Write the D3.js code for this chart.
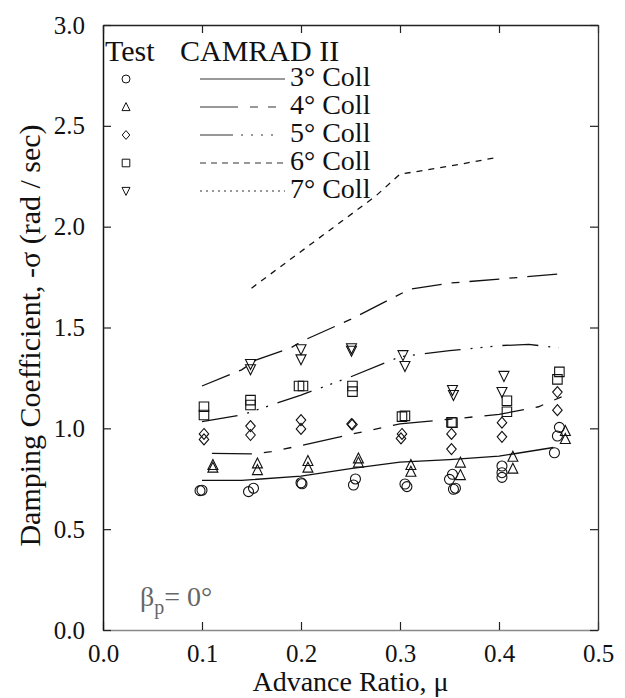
<!DOCTYPE html>
<html>
<head>
<meta charset="utf-8">
<script src="https://cdn.jsdelivr.net/npm/d3@7"></script>
</head>
<body style="margin:0">
<div class="canvas"></div>
<script>
// axis ticks
const xTicks = [0, 0.1, 0.2, 0.3, 0.4, 0.5];
const yTicks = [0, 0.5, 1.0, 1.5, 2.0, 2.5, 3.0];

// legend
const legendLabels = ['3° Coll', '4° Coll', '5° Coll', '6° Coll', '7° Coll'];

// CAMRAD II predictions
const camrad3Mu = [0.10, 0.14, 0.20, 0.25, 0.30, 0.35, 0.40, 0.455];
const camrad3Sigma = [0.742, 0.742, 0.763, 0.80, 0.832, 0.845, 0.862, 0.905];
const camrad4Mu = [0.11, 0.15, 0.17, 0.20, 0.25, 0.30, 0.35, 0.40, 0.44, 0.465];
const camrad4Sigma = [0.876, 0.873, 0.884, 0.915, 0.97, 1.022, 1.045, 1.069, 1.107, 1.16];
const camrad5Mu = [0.10, 0.14, 0.16, 0.20, 0.25, 0.30, 0.35, 0.40, 0.43, 0.46];
const camrad5Sigma = [1.033, 1.066, 1.099, 1.165, 1.255, 1.355, 1.385, 1.41, 1.416, 1.40];
const camrad6Mu = [0.10, 0.14, 0.155, 0.19, 0.20, 0.25, 0.27, 0.31, 0.35, 0.40, 0.46];
const camrad6Sigma = [1.21, 1.29, 1.34, 1.40, 1.43, 1.54, 1.59, 1.69, 1.72, 1.74, 1.765];
const camrad7Mu = [0.15, 0.275, 0.30, 0.35, 0.40];
const camrad7Sigma = [1.695, 2.15, 2.26, 2.30, 2.345];

// test data
const test3Mu = [0.098, 0.10, 0.147, 0.152, 0.20, 0.201, 0.255, 0.253, 0.305, 0.307, 0.353, 0.35, 0.356, 0.354, 0.403, 0.403, 0.403, 0.461, 0.459, 0.456];
const test3Sigma = [0.691, 0.693, 0.686, 0.703, 0.73, 0.725, 0.749, 0.719, 0.724, 0.711, 0.772, 0.747, 0.703, 0.698, 0.813, 0.78, 0.757, 1.005, 0.962, 0.879];
const test4Mu = [0.111, 0.111, 0.156, 0.156, 0.207, 0.207, 0.258, 0.258, 0.311, 0.311, 0.361, 0.361, 0.414, 0.414, 0.467, 0.467];
const test4Sigma = [0.818, 0.805, 0.826, 0.793, 0.838, 0.805, 0.851, 0.83, 0.818, 0.785, 0.83, 0.768, 0.859, 0.80, 0.987, 0.947];
const test5Mu = [0.102, 0.102, 0.149, 0.149, 0.20, 0.20, 0.251, 0.252, 0.302, 0.301, 0.352, 0.352, 0.403, 0.403, 0.459, 0.459];
const test5Sigma = [0.972, 0.945, 1.011, 0.967, 1.041, 0.997, 1.021, 1.019, 0.972, 0.95, 0.972, 0.897, 1.028, 0.958, 1.18, 1.09];
const test6Mu = [0.102, 0.102, 0.149, 0.149, 0.198, 0.202, 0.252, 0.252, 0.302, 0.305, 0.352, 0.353, 0.408, 0.408, 0.461, 0.459];
const test6Sigma = [1.107, 1.066, 1.14, 1.116, 1.21, 1.21, 1.21, 1.182, 1.058, 1.062, 1.03, 1.028, 1.137, 1.082, 1.28, 1.243];
const test7Mu = [0.149, 0.149, 0.20, 0.20, 0.251, 0.251, 0.303, 0.305, 0.353, 0.354, 0.405, 0.403];
const test7Sigma = [1.319, 1.293, 1.392, 1.342, 1.397, 1.385, 1.363, 1.309, 1.19, 1.165, 1.26, 1.18];

const width = 625, height = 698;
const margin = {top:25, right:27, bottom:68, left:103};
const graphWidth = width - margin.left - margin.right;
const graphHeight = height - margin.top - margin.bottom;
const serif = '"Liberation Serif"';

const svg = d3.select('.canvas')
  .append('svg')
    .attr('width', width)
    .attr('height', height);

const graph = svg.append('g')
  .attr('transform', `translate(${margin.left},${margin.top})`);

//scales
const x = d3.scaleLinear().domain([0, 0.5]).range([0, graphWidth]);
const y = d3.scaleLinear().domain([0, 3]).range([graphHeight, 0]);

//axes, ticks pointing inward
const xAxis = d3.axisBottom(x).tickValues(xTicks).tickFormat(d3.format('.1f'))
  .tickSizeInner(-8).tickSizeOuter(0).tickPadding(14);
const yAxis = d3.axisLeft(y).tickValues(yTicks).tickFormat(d3.format('.1f'))
  .tickSizeInner(-8).tickSizeOuter(0).tickPadding(18);
const xTop = d3.axisTop(x).tickValues(xTicks).tickFormat('').tickSizeInner(-8).tickSizeOuter(0);
const yRight = d3.axisRight(y).tickValues(yTicks).tickFormat('').tickSizeInner(-8).tickSizeOuter(0);

const xAxisGroup = graph.append('g').attr('transform', `translate(0,${graphHeight})`).call(xAxis);
const yAxisGroup = graph.append('g').call(yAxis);
const topGroup = graph.append('g').call(xTop);
const rightGroup = graph.append('g').attr('transform', `translate(${graphWidth},0)`).call(yRight);

// d3 puts font attributes on the axis groups, drop them
graph.selectAll('g').attr('font-family', null).attr('font-size', null);
xAxisGroup.select('.domain').attr('stroke', '#888').attr('stroke-width', 1.5);
yAxisGroup.select('.domain').attr('stroke', '#111').attr('stroke-width', 1.5);
topGroup.select('.domain').attr('stroke', '#222').attr('stroke-width', 1.3);
rightGroup.select('.domain').attr('stroke', '#333').attr('stroke-width', 1.3);
graph.selectAll('.tick line').attr('stroke', '#222').attr('stroke-width', 1.2);
graph.selectAll('.tick text')
  .style('font-family', serif)
  .attr('font-size', 25)
  .attr('fill', '#111');

//axis titles
svg.append('text')
  .attr('x', margin.left + graphWidth / 2)
  .attr('y', 691)
  .attr('text-anchor', 'middle')
  .style('font-family', serif)
  .attr('font-size', 28)
  .attr('fill', '#111')
  .text('Advance Ratio, μ');

svg.append('text')
  .attr('transform', `translate(40,${margin.top + graphHeight / 2 + 8}) rotate(-90)`)
  .attr('text-anchor', 'middle')
  .style('font-family', serif)
  .attr('font-size', 30)
  .attr('fill', '#111')
  .text('Damping Coefficient, -σ (rad / sec)');

//beta label
const beta = svg.append('text')
  .attr('x', 140)
  .attr('y', 606)
  .style('font-family', serif)
  .attr('font-size', 28)
  .attr('fill', '#666');
beta.append('tspan').text('β');
beta.append('tspan').attr('font-size', 20).attr('dy', 8).text('p');
beta.append('tspan').attr('dy', -8).text('= 0°');

//marker shapes
const markerPath = (type, r) => {
  if (type === 'circle') return `M${r},0A${r},${r},0,1,1,${-r},0A${r},${r},0,1,1,${r},0Z`;
  if (type === 'triangle') return `M0,${-r*1.1}L${r},${r*0.9}L${-r},${r*0.9}Z`;
  if (type === 'invtriangle') return `M0,${r*1.1}L${r},${-r*0.9}L${-r},${-r*0.9}Z`;
  if (type === 'diamond') return `M0,${-r*1.1}L${r*0.95},0L0,${r*1.1}L${-r*0.95},0Z`;
  return `M${-r*0.95},${-r*0.95}h${r*1.9}v${r*1.9}h${-r*1.9}Z`;
};

const types = ['circle', 'triangle', 'diamond', 'square', 'invtriangle'];
const lineDash = ['none', '40,12,8,12,8,12', '36,10,2,8,2,8,2,10', '30,10,8,10', '6,6'];
const legendDash = ['none', '38,12,8,10,8,10', '33,8,2,8,2,8,2,8,2', '6,5', '2,4'];

const camrad = [
  d3.zip(camrad3Mu, camrad3Sigma),
  d3.zip(camrad4Mu, camrad4Sigma),
  d3.zip(camrad5Mu, camrad5Sigma),
  d3.zip(camrad6Mu, camrad6Sigma),
  d3.zip(camrad7Mu, camrad7Sigma)
];
const tests = [
  d3.zip(test3Mu, test3Sigma),
  d3.zip(test4Mu, test4Sigma),
  d3.zip(test5Mu, test5Sigma),
  d3.zip(test6Mu, test6Sigma),
  d3.zip(test7Mu, test7Sigma)
];

const line = d3.line().x(d => x(d[0])).y(d => y(d[1]));

graph.selectAll('path.camrad')
  .data(camrad)
  .enter()
  .append('path')
    .attr('class', 'camrad')
    .attr('d', line)
    .attr('fill', 'none')
    .attr('stroke', '#111')
    .attr('stroke-width', 1.3)
    .attr('stroke-dasharray', (d, i) => lineDash[i]);

tests.forEach((pts, i) => {
  graph.selectAll(`path.test${i}`)
    .data(pts)
    .enter()
    .append('path')
      .attr('class', `test${i}`)
      .attr('transform', d => `translate(${x(d[0])},${y(d[1])})`)
      .attr('d', markerPath(types[i], 5))
      .attr('fill', 'none')
      .attr('stroke', '#111')
      .attr('stroke-width', 1.1);
});

//legend
svg.append('text').attr('x', 105).attr('y', 61)
  .style('font-family', serif).attr('font-size', 30).attr('fill', '#111').text('Test');
svg.append('text').attr('x', 180).attr('y', 61)
  .style('font-family', serif).attr('font-size', 30).attr('fill', '#111').text('CAMRAD II');

legendLabels.forEach((label, i) => {
  const ly = 79 + i * 28;
  svg.append('path')
    .attr('transform', `translate(126,${ly})`)
    .attr('d', markerPath(types[i], 4))
    .attr('fill', 'none')
    .attr('stroke', '#111')
    .attr('stroke-width', 1);
  svg.append('line')
    .attr('x1', 200).attr('x2', 285)
    .attr('y1', ly).attr('y2', ly)
    .attr('stroke', '#777')
    .attr('stroke-width', 1.5)
    .attr('stroke-dasharray', legendDash[i]);
  svg.append('text')
    .attr('x', 290)
    .attr('y', ly + 7)
    .style('font-family', serif)
    .attr('font-size', 28)
    .attr('fill', '#111')
    .text(label);
});
</script>
</body>
</html>
